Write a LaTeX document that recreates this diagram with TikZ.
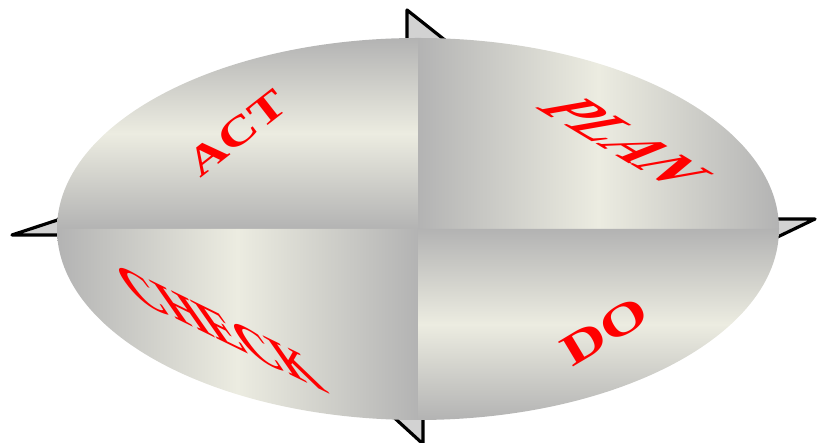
\documentclass[tikz,border=0pt]{standalone}
\usepackage{fontspec}
\setmainfont{Liberation Serif}
\definecolor{shgray}{HTML}{B3B3B3}
\definecolor{shlight}{HTML}{ECECE1}
\definecolor{arrowfill}{HTML}{D2D2D2}
\begin{document}
\begin{tikzpicture}[x=1pt,y=1pt,
  arrowhead/.style={draw=black, fill=arrowfill, line width=3.2pt, line join=round},
  pdcalabel/.style={text=red, font=\fontsize{40}{40}\selectfont\bfseries, inner sep=0pt}]
\useasboundingbox (0,0) rectangle (817,443);
\def\cx{418}\def\cy{214}\def\rx{361}\def\ry{191}
% arrowheads (mostly hidden behind the ellipse)
\filldraw[arrowhead] (407,433) -- (407,383) -- (470,383) -- cycle;
\filldraw[arrowhead] (815,224) -- (740,224) -- (740,188) -- cycle;
\filldraw[arrowhead] (423,-1) -- (423,63) -- (353,63) -- cycle;
\filldraw[arrowhead] (12,208) -- (100,208) -- (100,237) -- cycle;
% quadrants
\shade[top color=shgray, bottom color=shgray, middle color=shlight]
  (\cx,\cy) -- (\cx-\rx,\cy) arc[start angle=180, end angle=90, x radius=\rx, y radius=\ry] -- cycle;
\shade[left color=shgray, right color=shgray, middle color=shlight]
  (\cx,\cy) -- (\cx,\cy+\ry) arc[start angle=90, end angle=0, x radius=\rx, y radius=\ry] -- cycle;
\shade[left color=shgray, right color=shgray, middle color=shlight]
  (\cx,\cy) -- (\cx,\cy-\ry) arc[start angle=270, end angle=180, x radius=\rx, y radius=\ry] -- cycle;
\shade[top color=shgray, bottom color=shgray, middle color=shlight]
  (\cx,\cy) -- (\cx+\rx,\cy) arc[start angle=0, end angle=-90, x radius=\rx, y radius=\ry] -- cycle;
% labels
\node[pdcalabel, rotate=38] (act) at (237,310) {\scalebox{1.35}[1]{ACT}};
\node[pdcalabel, cm={1.178,-0.708,1.970,0.347,(0,0)}] (plan) at (625,302) {PLAN};
\node[pdcalabel, cm={1.32,-0.645,-1.05,1.50,(0,0)}] (check) at (220,115) {CHECK};
\node[pdcalabel, rotate=31] (do) at (605,112) {\scalebox{1.55}[1.1]{DO}};
\end{tikzpicture}
\end{document}
